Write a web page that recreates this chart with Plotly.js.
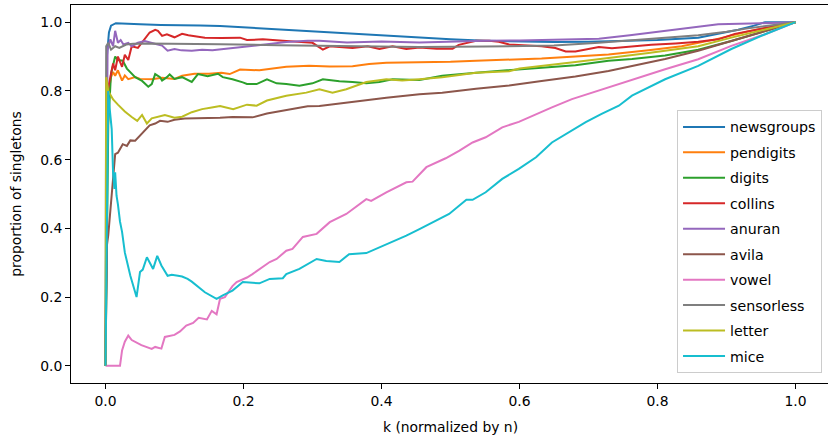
<!DOCTYPE html>
<html>
<head>
<meta charset="utf-8">
<script src="https://cdn.plot.ly/plotly-3.0.1.min.js"></script>
<style>
html,body{margin:0;padding:0;overflow:hidden;background:#fff;width:828px;height:436px;}
#chart{width:832px;height:436px;}
</style>
</head>
<body>
<div id="chart"></div>
<script>
// ---- data ----
const seriesNames = ["newsgroups","pendigits","digits","collins","anuran","avila","vowel","sensorless","letter","mice"];
const seriesColors = ["#1f77b4","#ff7f0e","#2ca02c","#d62728","#9467bd","#8c564b","#e377c2","#7f7f7f","#bcbd22","#17becf"];

const newsgroupsX = [0,0.002,0.005,0.008,0.015,0.03,0.05,0.08,0.1,0.137,0.166,0.2,0.25,0.3,0.35,0.4,0.455,0.5,0.55,0.6,0.65,0.7,0.75,0.8,0.859,0.9,0.917,0.94,0.956,1.0];
const newsgroupsY = [0,0.9,0.97,0.99,0.997,0.995,0.994,0.992,0.992,0.99,0.989,0.985,0.98,0.975,0.969,0.963,0.956,0.95,0.946,0.943,0.942,0.943,0.945,0.948,0.955,0.97,0.978,0.99,1.0,1.0];

const pendigitsX = [0,0.003,0.008,0.011,0.014,0.018,0.024,0.028,0.033,0.043,0.05,0.067,0.082,0.1,0.111,0.129,0.15,0.168,0.18,0.195,0.223,0.262,0.295,0.325,0.358,0.382,0.407,0.455,0.5,0.537,0.585,0.632,0.681,0.729,0.787,0.835,0.884,0.931,1.0];
const pendigitsY = [0,0.78,0.84,0.855,0.844,0.86,0.83,0.845,0.834,0.84,0.835,0.834,0.838,0.835,0.844,0.85,0.85,0.853,0.849,0.862,0.86,0.87,0.873,0.871,0.872,0.878,0.882,0.883,0.885,0.888,0.89,0.894,0.9,0.906,0.918,0.93,0.95,0.973,1.0];

const digitsX = [0,0.004,0.008,0.011,0.014,0.018,0.025,0.031,0.036,0.043,0.053,0.062,0.067,0.072,0.079,0.082,0.089,0.093,0.1,0.111,0.125,0.134,0.148,0.163,0.17,0.184,0.199,0.205,0.219,0.234,0.248,0.262,0.281,0.3,0.315,0.339,0.358,0.378,0.397,0.416,0.455,0.488,0.537,0.585,0.632,0.681,0.729,0.763,0.811,0.859,0.907,0.956,1.0];
const digitsY = [0,0.7,0.85,0.88,0.9,0.89,0.888,0.865,0.855,0.84,0.829,0.812,0.82,0.849,0.84,0.83,0.84,0.848,0.835,0.84,0.826,0.849,0.843,0.85,0.84,0.834,0.825,0.82,0.82,0.834,0.822,0.82,0.815,0.822,0.834,0.828,0.826,0.822,0.826,0.834,0.832,0.844,0.853,0.86,0.868,0.875,0.888,0.893,0.903,0.92,0.945,0.974,1.0];

const collinsX = [0,0.003,0.007,0.011,0.014,0.018,0.024,0.028,0.033,0.038,0.047,0.057,0.064,0.072,0.076,0.082,0.089,0.1,0.111,0.12,0.129,0.144,0.168,0.195,0.205,0.228,0.262,0.286,0.3,0.315,0.325,0.358,0.38,0.397,0.416,0.436,0.455,0.48,0.503,0.512,0.537,0.556,0.57,0.585,0.614,0.632,0.652,0.667,0.681,0.7,0.715,0.734,0.763,0.791,0.826,0.859,0.888,0.912,0.956,1.0];
const collinsY = [0,0.8,0.84,0.88,0.86,0.9,0.87,0.905,0.89,0.93,0.925,0.95,0.97,0.978,0.975,0.96,0.965,0.956,0.966,0.962,0.96,0.955,0.954,0.955,0.948,0.95,0.945,0.941,0.94,0.92,0.93,0.925,0.93,0.922,0.93,0.922,0.926,0.923,0.923,0.934,0.946,0.946,0.943,0.935,0.932,0.93,0.925,0.915,0.915,0.922,0.928,0.924,0.93,0.934,0.938,0.943,0.95,0.966,0.983,1.0];

const anuranX = [0,0.003,0.007,0.011,0.014,0.018,0.022,0.026,0.033,0.038,0.047,0.057,0.07,0.082,0.09,0.1,0.11,0.125,0.14,0.155,0.168,0.185,0.205,0.234,0.262,0.293,0.31,0.35,0.4,0.455,0.5,0.55,0.6,0.65,0.715,0.76,0.811,0.85,0.888,0.95,1.0];
const anuranY = [0,0.92,0.95,0.93,0.975,0.94,0.948,0.935,0.94,0.93,0.94,0.945,0.938,0.932,0.917,0.922,0.918,0.917,0.92,0.918,0.921,0.925,0.93,0.937,0.942,0.946,0.946,0.941,0.944,0.941,0.944,0.946,0.947,0.949,0.952,0.962,0.975,0.985,0.994,0.997,1.0];

const avilaX = [0,0.002,0.004,0.0066,0.011,0.014,0.018,0.025,0.031,0.036,0.043,0.05,0.057,0.064,0.072,0.079,0.09,0.1,0.115,0.14,0.166,0.184,0.213,0.234,0.262,0.293,0.31,0.358,0.407,0.455,0.488,0.537,0.585,0.632,0.681,0.729,0.763,0.811,0.859,0.907,0.956,1.0];
const avilaY = [0,0.35,0.38,0.447,0.564,0.616,0.62,0.645,0.64,0.656,0.655,0.67,0.684,0.7,0.705,0.713,0.71,0.716,0.72,0.72,0.722,0.724,0.723,0.734,0.745,0.755,0.756,0.768,0.78,0.79,0.795,0.806,0.816,0.829,0.842,0.858,0.873,0.893,0.917,0.945,0.974,1.0];

const vowelX = [0,0.002,0.021,0.024,0.028,0.033,0.038,0.052,0.067,0.072,0.081,0.086,0.1,0.108,0.117,0.127,0.135,0.147,0.154,0.161,0.166,0.173,0.184,0.19,0.205,0.213,0.223,0.238,0.248,0.262,0.271,0.286,0.306,0.325,0.349,0.378,0.385,0.407,0.436,0.445,0.465,0.493,0.513,0.532,0.551,0.575,0.599,0.624,0.647,0.676,0.729,0.763,0.811,0.859,0.907,0.956,1.0];
const vowelY = [0,0,0,0.045,0.07,0.088,0.075,0.06,0.049,0.055,0.05,0.084,0.09,0.1,0.117,0.125,0.14,0.135,0.16,0.15,0.195,0.2,0.232,0.244,0.257,0.267,0.282,0.302,0.311,0.335,0.34,0.375,0.384,0.418,0.442,0.485,0.48,0.505,0.534,0.536,0.578,0.604,0.626,0.65,0.665,0.694,0.71,0.733,0.752,0.776,0.81,0.834,0.863,0.892,0.931,0.965,1.0];

const sensorlessX = [0,0.001,0.004,0.008,0.014,0.02,0.03,0.04,0.06,0.1,0.166,0.25,0.35,0.455,0.55,0.65,0.715,0.78,0.859,0.9,0.931,1.0];
const sensorlessY = [0,0.93,0.94,0.92,0.93,0.925,0.935,0.937,0.938,0.938,0.936,0.933,0.93,0.928,0.929,0.932,0.94,0.95,0.962,0.972,0.982,1.0];

const letterX = [0,0.001,0.004,0.011,0.018,0.028,0.038,0.046,0.053,0.06,0.067,0.076,0.086,0.1,0.111,0.125,0.14,0.154,0.166,0.185,0.205,0.219,0.234,0.262,0.291,0.31,0.329,0.349,0.378,0.407,0.43,0.455,0.488,0.537,0.585,0.6,0.632,0.681,0.729,0.787,0.859,0.907,1.0];
const letterY = [0,0.84,0.8,0.775,0.76,0.74,0.724,0.713,0.73,0.705,0.72,0.725,0.73,0.722,0.725,0.738,0.747,0.752,0.756,0.747,0.76,0.757,0.772,0.786,0.795,0.805,0.795,0.805,0.826,0.834,0.83,0.834,0.84,0.853,0.857,0.865,0.872,0.884,0.896,0.91,0.93,0.955,1.0];

const miceX = [0,0.002,0.004,0.006,0.009,0.011,0.013,0.014,0.016,0.018,0.021,0.024,0.028,0.036,0.045,0.05,0.054,0.06,0.064,0.069,0.075,0.081,0.09,0.096,0.105,0.111,0.119,0.125,0.144,0.161,0.17,0.184,0.199,0.223,0.238,0.257,0.262,0.281,0.306,0.32,0.339,0.353,0.378,0.392,0.416,0.436,0.455,0.479,0.498,0.523,0.532,0.551,0.575,0.599,0.624,0.647,0.671,0.696,0.719,0.744,0.763,0.811,0.859,0.907,0.956,1.0];
const miceY = [0,0.5,0.8,0.75,0.689,0.56,0.515,0.563,0.495,0.47,0.42,0.39,0.33,0.262,0.2,0.273,0.28,0.316,0.3,0.282,0.32,0.292,0.262,0.265,0.262,0.26,0.253,0.245,0.214,0.195,0.205,0.219,0.244,0.24,0.253,0.255,0.267,0.282,0.311,0.305,0.302,0.325,0.328,0.34,0.36,0.379,0.398,0.422,0.442,0.483,0.483,0.505,0.544,0.573,0.607,0.65,0.68,0.709,0.733,0.757,0.786,0.834,0.873,0.922,0.965,1.0];

const xTickVals = [0,0.2,0.4,0.6,0.8,1.0];
const xTickText = ["0.0","0.2","0.4","0.6","0.8","1.0"];
const yTickVals = [0,0.2,0.4,0.6,0.8,1.0];
const yTickText = ["0.0","0.2","0.4","0.6","0.8","1.0"];

const allX = [newsgroupsX,pendigitsX,digitsX,collinsX,anuranX,avilaX,vowelX,sensorlessX,letterX,miceX];
const allY = [newsgroupsY,pendigitsY,digitsY,collinsY,anuranY,avilaY,vowelY,sensorlessY,letterY,miceY];

const FONT = "DejaVu Sans, Verdana, sans-serif";

const traces = seriesNames.map((n,i)=>({
  type:"scatter", mode:"lines", name:n, x:allX[i], y:allY[i],
  line:{color:seriesColors[i], width:2},
  legendgroup:n
}));

const layout = {
  width:832, height:436,
  margin:{l:71, r:2, t:5, b:53},
  paper_bgcolor:"#fff", plot_bgcolor:"#fff",
  font:{family:FONT, size:13.9, color:"#000"},
  showlegend:true,
  legend:{
    x:0.9895, y:0.026, xanchor:"right", yanchor:"bottom",
    bgcolor:"rgba(255,255,255,0.8)", bordercolor:"#cccccc", borderwidth:1,
    font:{family:FONT, size:14.2, color:"#000"},
    traceorder:"grouped", tracegroupgap:4, itemwidth:42
  },
  xaxis:{
    range:[-0.05,1.05], tickvals:xTickVals, ticktext:xTickText,
    ticks:"outside", ticklen:5, tickwidth:1, tickcolor:"#000",
    showline:true, linecolor:"#000", linewidth:1, mirror:true,
    showgrid:false, zeroline:false,
    title:{text:"k (normalized by n)", font:{family:FONT, size:13.9, color:"#000"}, standoff:14}
  },
  yaxis:{
    range:[-0.05,1.05], tickvals:yTickVals, ticktext:yTickText,
    ticks:"outside", ticklen:5, tickwidth:1, tickcolor:"#000",
    showline:true, linecolor:"#000", linewidth:1, mirror:true,
    showgrid:false, zeroline:false,
    title:{text:"proportion of singletons", font:{family:FONT, size:13.9, color:"#000"}, standoff:15}
  }
};

Plotly.newPlot("chart", traces, layout, {displayModeBar:false, staticPlot:true});
</script>
</body>
</html>
